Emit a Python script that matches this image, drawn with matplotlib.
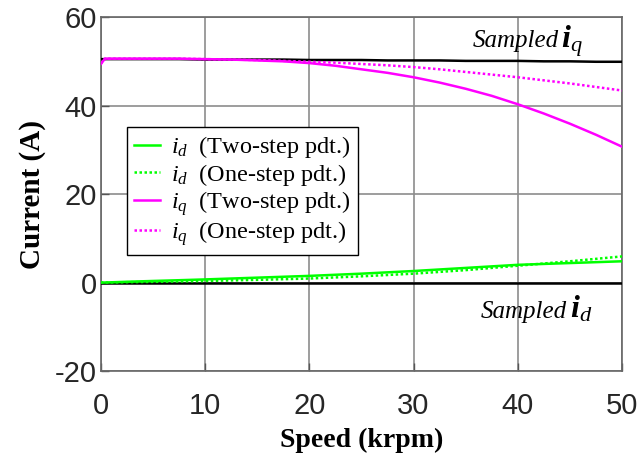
import matplotlib
matplotlib.use("Agg")
import matplotlib.pyplot as plt

# Speed sweep (krpm) and the predicted / sampled dq currents (A)
speed = [0, 0.4, 2.5, 5, 7.5, 10, 12.5, 15, 17.5, 20, 22.5, 25,
         27.5, 30, 32.5, 35, 37.5, 40, 42.5, 45, 47.5, 50]
iq_two_step = [49.4, 50.6, 50.6, 50.6, 50.6, 50.5, 50.4, 50.2, 50.0, 49.6, 49.0, 48.2,
               47.4, 46.4, 45.2, 43.8, 42.2, 40.3, 38.2, 35.9, 33.4, 30.7]
iq_one_step = [49.4, 50.6, 50.6, 50.6, 50.6, 50.5, 50.4, 50.3, 50.1, 49.9, 49.7, 49.4,
               49.1, 48.7, 48.2, 47.6, 47.0, 46.4, 45.7, 45.0, 44.2, 43.4]
iq_sampled = [50.5, 50.5, 50.5, 50.5, 50.5, 50.4, 50.4, 50.4, 50.4, 50.3, 50.3, 50.3,
              50.2, 50.2, 50.2, 50.1, 50.1, 50.1, 50.0, 50.0, 49.9, 49.9]
id_two_step = [0.0, 0.0, 0.17, 0.35, 0.52, 0.7, 0.9, 1.1, 1.3, 1.5, 1.75, 2.0,
               2.3, 2.6, 2.95, 3.3, 3.65, 4.0, 4.2, 4.4, 4.6, 4.8]
id_one_step = [0.0, 0.0, 0.07, 0.15, 0.25, 0.35, 0.47, 0.6, 0.75, 0.9, 1.15, 1.4,
               1.7, 2.0, 2.4, 2.8, 3.3, 3.8, 4.3, 4.8, 5.35, 5.9]
id_sampled = [0.0] * 22

x_ticks = [0, 10, 20, 30, 40, 50]
y_ticks = [-20, 0, 20, 40, 60]

legend_labels = [
    r"$i_d$  (Two-step pdt.)",
    r"$i_d$  (One-step pdt.)",
    r"$i_q$  (Two-step pdt.)",
    r"$i_q$  (One-step pdt.)",
]

plt.rcParams["mathtext.fontset"] = "custom"
plt.rcParams["mathtext.rm"] = "Liberation Serif"
plt.rcParams["mathtext.it"] = "Liberation Serif:italic"
plt.rcParams["mathtext.bf"] = "Liberation Serif:bold"
plt.rcParams["mathtext.bfit"] = "Liberation Serif:bold:italic"

GREEN = "#00ff00"
MAGENTA = "#ff00ff"

fig = plt.figure(figsize=(6.38, 4.62), dpi=100)
ax = fig.add_axes([0.158, 0.197, 0.817, 0.766])

lw = 1.8
dots = (0, (1.0, 1.0))
ax.plot(speed, iq_sampled, color="black", lw=lw, zorder=3)
ax.plot(speed, id_sampled, color="black", lw=lw, zorder=3)
l1, = ax.plot(speed, id_two_step, color=GREEN, lw=lw, zorder=4)
l2, = ax.plot(speed, id_one_step, color=GREEN, lw=lw, ls=dots, zorder=4)
l3, = ax.plot(speed, iq_two_step, color=MAGENTA, lw=lw, zorder=4)
l4, = ax.plot(speed, iq_one_step, color=MAGENTA, lw=lw, ls=dots, zorder=4)

ax.set_xlim(0, 50)
ax.set_ylim(-20, 60)
ax.set_xticks(x_ticks)
ax.set_yticks(y_ticks)
ax.set_xticklabels([str(v) for v in x_ticks], family="Liberation Sans", fontsize=21, color="#262626")
ax.set_yticklabels([str(v) for v in y_ticks], family="Liberation Sans", fontsize=21, color="#262626")
ax.tick_params(direction="in", length=6, width=1, color="#555555")
ax.tick_params(axis="x", pad=15)
ax.tick_params(axis="y", pad=3)

ax.grid(True, color="#8c8c8c", lw=1.2)
ax.set_axisbelow(True)
for s in ax.spines.values():
    s.set_color("#666666")
    s.set_linewidth(1.2)

ax.set_xlabel("Speed (krpm)", family="Liberation Serif", fontweight="bold", fontsize=20, labelpad=6)
ax.set_ylabel("Current (A)", family="Liberation Serif", fontweight="bold", fontsize=21, labelpad=6)

# Annotations for the sampled currents: italic word followed by a large bold-italic symbol
ax.text(43.9, 53.2, "Sampled", family="Liberation Serif", style="italic",
        fontsize=18, ha="right", va="baseline")
ax.text(44.1, 53.2, r"$\mathbfit{i}_q$", fontsize=23, ha="left", va="baseline")
ax.text(44.7, -8.0, "Sampled", family="Liberation Serif", style="italic",
        fontsize=18, ha="right", va="baseline")
ax.text(45.0, -8.0, r"$\mathbfit{i}_d$", fontsize=23, ha="left", va="baseline")

leg = ax.legend([l1, l2, l3, l4], legend_labels, loc="upper left",
                bbox_to_anchor=(0.05, 0.689), prop={"family": "Liberation Serif", "size": 17.5},
                frameon=True, fancybox=False, edgecolor="black", framealpha=1,
                handlelength=1.05, handletextpad=0.45, labelspacing=0.05,
                borderpad=0.3, borderaxespad=0)
leg.get_frame().set_linewidth(1.0)

fig.savefig("out.png", dpi=100)
